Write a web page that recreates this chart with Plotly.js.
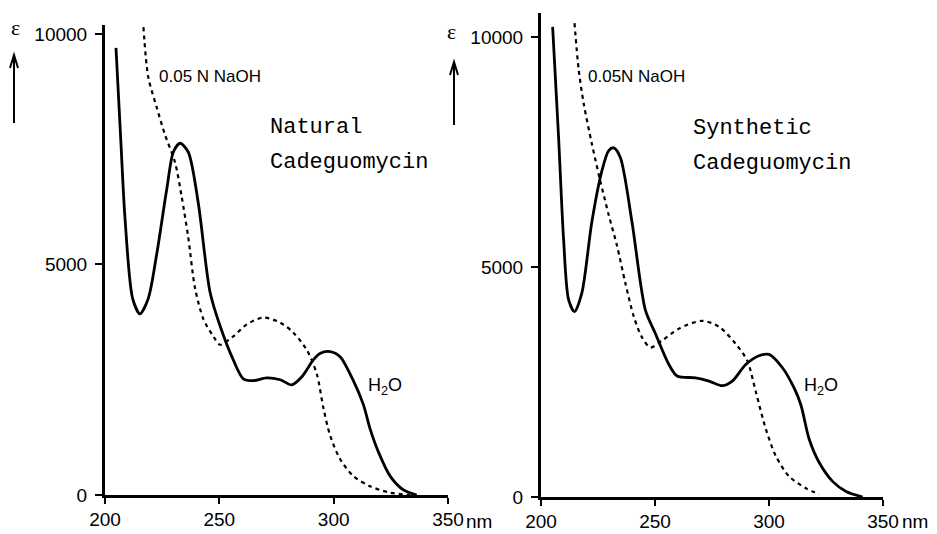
<!DOCTYPE html>
<html>
<head>
<meta charset="utf-8">
<script src="https://cdn.plot.ly/plotly-3.0.1.min.js"></script>
<style>html,body{margin:0;padding:0;background:#fff;}#chart{width:937px;height:534px;}</style>
</head>
<body>
<div id="chart"></div>
<script>
// Natural Cadeguomycin, H2O (solid)
const natH2O_x = [204.8, 206.9, 208.7, 212.1, 215.3, 218.9, 222.6, 227.0, 229.9, 232.8, 236.4, 240.8, 245.9, 250.3, 256.1, 260.5, 264.9, 270.7, 276.6, 281.7, 286.0, 291.1, 294.0, 298.4, 302.8, 308.6, 313.0, 315.9, 319.6, 324.7, 330.5, 336.3];
const natH2O_y = [9700, 7700, 6040, 4260, 3930, 4260, 5220, 6630, 7440, 7630, 7440, 6330, 4410, 3670, 2930, 2520, 2480, 2540, 2500, 2390, 2560, 2930, 3070, 3110, 3000, 2480, 1960, 1440, 930, 410, 110, 0];
// Natural Cadeguomycin, 0.05N NaOH (dashed)
const natNaOH_x = [216.8, 218.9, 222.6, 226.2, 230.6, 233.5, 236.4, 239.4, 243.0, 247.4, 250.3, 256.1, 262.0, 269.2, 276.6, 282.4, 288.2, 292.6, 295.5, 298.4, 302.8, 308.6, 315.9, 324.7, 333.4];
const natNaOH_y = [10150, 9070, 8410, 7820, 7220, 6480, 5590, 4480, 3820, 3440, 3260, 3440, 3700, 3850, 3740, 3520, 3150, 2630, 1890, 1300, 780, 410, 190, 50, 0];
// Synthetic Cadeguomycin, H2O (solid)
const synH2O_x = [205.1, 207.7, 209.9, 212.1, 214.7, 217.9, 222.3, 226.7, 229.7, 231.9, 234.8, 239.9, 245.8, 250.2, 256.1, 259.7, 267.8, 273.7, 279.5, 283.9, 289.8, 295.6, 300.0, 305.9, 311.0, 314.0, 317.6, 322.0, 327.9, 333.8, 341.1];
const synH2O_y = [10220, 7830, 5610, 4290, 4030, 4430, 5980, 7090, 7530, 7590, 7380, 5980, 4060, 3550, 2880, 2630, 2590, 2520, 2420, 2520, 2880, 3070, 3100, 2810, 2370, 2000, 1260, 750, 340, 120, 0];
// Synthetic Cadeguomycin, 0.05N NaOH (dashed)
const synNaOH_x = [214.7, 216.5, 218.7, 222.3, 226.0, 229.7, 233.3, 237.0, 240.7, 244.3, 248.0, 253.1, 260.5, 270.7, 278.1, 285.4, 290.5, 294.2, 298.6, 303.0, 308.8, 316.2, 322.0];
const synNaOH_y = [10300, 9300, 8560, 7680, 6870, 6130, 5470, 4650, 3920, 3470, 3250, 3400, 3660, 3830, 3700, 3330, 2960, 2290, 1480, 890, 450, 190, 60];

const xTickVals = [200, 250, 300, 350];
const xTickText = ['200', '250', '300', '350'];
const yTickVals = [0, 5000, 10000];
const yTickText = ['0', '5000', '10000'];

const W = 937, H = 534;
const fx = p => p / W;
const fy = p => 1 - p / H;

const solid = {color: '#000', width: 2.8, shape: 'spline', smoothing: 0.8};
const dashed = {color: '#000', width: 2.2, dash: '4px,4px', shape: 'spline', smoothing: 0.8};

const traces = [
  {x: natH2O_x, y: natH2O_y, mode: 'lines', line: solid, xaxis: 'x', yaxis: 'y', hoverinfo: 'skip'},
  {x: natNaOH_x, y: natNaOH_y, mode: 'lines', line: dashed, xaxis: 'x', yaxis: 'y', hoverinfo: 'skip'},
  {x: synH2O_x, y: synH2O_y, mode: 'lines', line: solid, xaxis: 'x2', yaxis: 'y2', hoverinfo: 'skip'},
  {x: synNaOH_x, y: synNaOH_y, mode: 'lines', line: dashed, xaxis: 'x2', yaxis: 'y2', hoverinfo: 'skip'}
];

const tickFont = {family: 'Liberation Sans, Arial, sans-serif', size: 19, color: '#000'};
const xBase = {
  range: [200, 350], tickmode: 'array', tickvals: xTickVals, ticktext: xTickText,
  ticks: 'outside', ticklen: 6, tickwidth: 2, tickcolor: '#000',
  showline: true, linecolor: '#000', linewidth: 2.5, showgrid: false, zeroline: false,
  tickfont: tickFont, ticklabelstandoff: 0, fixedrange: true
};
const yBase = {
  tickmode: 'array', tickvals: yTickVals, ticktext: yTickText,
  ticks: 'outside', ticklen: 7, tickwidth: 2, tickcolor: '#000',
  showline: true, linecolor: '#000', linewidth: 3, showgrid: false, zeroline: false,
  tickfont: tickFont, ticklabelstandoff: 4, fixedrange: true
};

const layout = {
  width: W, height: H, autosize: false,
  margin: {l: 0, r: 0, t: 0, b: 0},
  paper_bgcolor: '#fff', plot_bgcolor: 'rgba(0,0,0,0)',
  showlegend: false,
  xaxis: Object.assign({}, xBase, {domain: [fx(105), fx(448)], anchor: 'y'}),
  yaxis: Object.assign({}, yBase, {domain: [fy(495), fy(25)], range: [0, 10195], anchor: 'x'}),
  xaxis2: Object.assign({}, xBase, {domain: [fx(541), fx(883)], anchor: 'y2'}),
  yaxis2: Object.assign({}, yBase, {domain: [fy(497), fy(12.7)], range: [0, 10528], anchor: 'x2'}),
  annotations: [
    {xref: 'paper', yref: 'paper', x: fx(15), y: fy(27), text: 'ε', showarrow: false, xanchor: 'center', yanchor: 'middle', font: {family: 'Liberation Serif, serif', size: 22, color: '#000'}},
    {xref: 'paper', yref: 'paper', x: fx(451), y: fy(31), text: 'ε', showarrow: false, xanchor: 'center', yanchor: 'middle', font: {family: 'Liberation Serif, serif', size: 22, color: '#000'}},
    {xref: 'paper', yref: 'paper', x: fx(157), y: fy(76), text: '0.05 N NaOH', showarrow: false, xanchor: 'left', yanchor: 'middle', font: {family: 'Liberation Sans, Arial, sans-serif', size: 17, color: '#000'}},
    {xref: 'paper', yref: 'paper', x: fx(586), y: fy(76), text: '0.05N NaOH', showarrow: false, xanchor: 'left', yanchor: 'middle', font: {family: 'Liberation Sans, Arial, sans-serif', size: 17, color: '#000'}},
    {xref: 'paper', yref: 'paper', x: fx(268), y: fy(127), text: 'Natural', showarrow: false, xanchor: 'left', yanchor: 'middle', font: {family: 'Liberation Mono, Courier New, monospace', size: 22, color: '#000'}},
    {xref: 'paper', yref: 'paper', x: fx(268), y: fy(162), text: 'Cadeguomycin', showarrow: false, xanchor: 'left', yanchor: 'middle', font: {family: 'Liberation Mono, Courier New, monospace', size: 22, color: '#000'}},
    {xref: 'paper', yref: 'paper', x: fx(691), y: fy(128), text: 'Synthetic', showarrow: false, xanchor: 'left', yanchor: 'middle', font: {family: 'Liberation Mono, Courier New, monospace', size: 22, color: '#000'}},
    {xref: 'paper', yref: 'paper', x: fx(691), y: fy(164), text: 'Cadeguomycin', showarrow: false, xanchor: 'left', yanchor: 'middle', font: {family: 'Liberation Mono, Courier New, monospace', size: 22, color: '#000'}},
    {xref: 'paper', yref: 'paper', x: fx(366), y: fy(386), text: 'H<sub>2</sub>O', showarrow: false, xanchor: 'left', yanchor: 'middle', font: {family: 'Liberation Sans, Arial, sans-serif', size: 18, color: '#000'}},
    {xref: 'paper', yref: 'paper', x: fx(802), y: fy(386), text: 'H<sub>2</sub>O', showarrow: false, xanchor: 'left', yanchor: 'middle', font: {family: 'Liberation Sans, Arial, sans-serif', size: 18, color: '#000'}},
    {xref: 'paper', yref: 'paper', x: fx(464), y: fy(521), text: 'nm', showarrow: false, xanchor: 'left', yanchor: 'middle', font: tickFont},
    {xref: 'paper', yref: 'paper', x: fx(900), y: fy(521), text: 'nm', showarrow: false, xanchor: 'left', yanchor: 'middle', font: tickFont}
  ],
  shapes: [
    {type: 'path', xref: 'paper', yref: 'paper', line: {color: '#000', width: 2},
     path: `M${fx(14)},${fy(123)} L${fx(14)},${fy(55)} M${fx(10)},${fy(68)} L${fx(14)},${fy(55)} L${fx(18)},${fy(68)}`},
    {type: 'path', xref: 'paper', yref: 'paper', line: {color: '#000', width: 2},
     path: `M${fx(454)},${fy(125)} L${fx(454)},${fy(62)} M${fx(450)},${fy(75)} L${fx(454)},${fy(62)} L${fx(458)},${fy(75)}`}
  ]
};

Plotly.newPlot('chart', traces, layout, {staticPlot: true, displayModeBar: false});
</script>
</body>
</html>
